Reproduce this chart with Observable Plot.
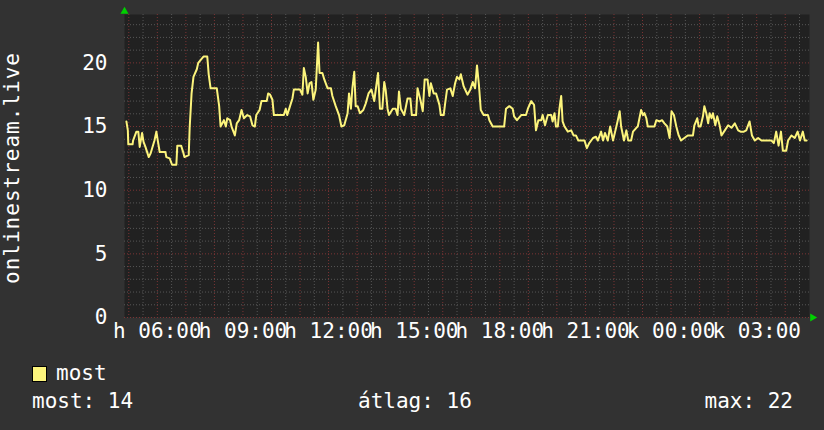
<!DOCTYPE html>
<html>
<head>
<meta charset="utf-8">
<script src="https://cdn.jsdelivr.net/npm/d3@7"></script>
<script src="https://cdn.jsdelivr.net/npm/@observablehq/plot@0.6"></script>
<style>
  html, body { margin: 0; padding: 0; background: #323232; }
  #wrap { position: relative; width: 824px; height: 430px; background: #323232; overflow: hidden;
          font-family: "DejaVu Sans Mono", monospace; color: #ffffff; }
  #chart { position: absolute; left: 0; top: 0; }
  .lg { position: absolute; font-size: 21px; white-space: pre; line-height: 1; }
  .sw { position: absolute; width: 13px; height: 14px; border: 1px solid #000; }
</style>
</head>
<body>
<div id="wrap">
  <div id="chart"></div>
</div>
<script>
// ---- data ----
const seriesName = "most";
const yLabel = "onlinestream.live";
const startISO = "2024-01-15T04:51:00Z";   // Monday (h) 04:51, 24 h window
const spanMinutes = 1440;
const dayAbbr = ["v", "h", "k", "sze", "cs", "p", "szo"];
const minutes = [
  4,7,8,17,18,25,29,32,37,40,44,51,55,63,67,70,74,86,88,95,100,109,111,119,124,126,135,137,141,145,
  152,155,166,174,177,181,194,199,202,209,213,216,222,225,232,236,241,246,251,258,264,269,274,277,284,288,299,302,306,311,
  314,335,339,342,348,353,356,369,374,377,381,385,389,393,397,402,407,410,416,420,427,434,437,444,451,456,462,469,472,476,
  479,483,486,490,495,502,507,513,519,525,530,533,537,542,546,549,553,556,564,570,574,577,581,588,595,601,604,613,616,622,
  627,631,637,641,644,650,655,662,665,671,674,678,685,690,695,699,704,707,713,718,721,727,732,737,741,745,749,755,764,767,
  774,798,802,809,816,819,825,834,844,848,855,861,865,870,876,879,884,890,897,900,904,907,911,914,918,921,925,932,939,944,
  949,954,967,972,977,985,991,995,1002,1006,1010,1016,1021,1027,1034,1037,1041,1044,1050,1055,1059,1065,1069,1076,1079,1086,1090,1093,1097,1100,
  1114,1118,1125,1130,1135,1141,1146,1150,1155,1160,1165,1170,1184,1195,1198,1204,1207,1211,1216,1219,1223,1227,1230,1234,1237,1242,1246,1251,1255,1262,
  1269,1276,1283,1290,1295,1302,1307,1314,1319,1325,1332,1339,1360,1365,1370,1375,1380,1384,1391,1395,1402,1409,1415,1420,1426,1430,1434
];
const visitors = [
  15.4,14.7,13.6,13.6,13.9,14.6,14.6,13.4,14.5,13.8,13.4,12.6,12.9,13.9,14.6,13.9,13.0,13.0,12.6,12.5,12.0,12.0,13.5,13.5,12.9,12.6,12.75,14.9,17.6,18.9,
  19.5,20.0,20.5,20.5,19.1,18.0,18.0,16.6,15.0,15.5,15.0,15.65,15.5,15.0,14.3,15.25,15.5,16.3,15.65,15.9,15.8,15.1,15.0,15.9,16.3,17.0,17.0,17.6,17.5,17.1,
  15.9,15.9,16.4,15.9,16.6,17.2,17.9,17.9,17.5,19.6,18.9,17.6,18.4,18.5,17.1,17.9,21.6,19.2,19.2,18.7,18.0,18.0,17.4,16.6,15.9,15.0,15.1,16.05,17.6,16.4,
  18.0,19.3,16.6,16.6,16.05,16.3,16.8,17.6,17.9,17.0,18.4,19.2,16.4,16.4,18.5,17.9,16.4,15.9,16.4,16.4,15.9,17.75,16.4,15.9,17.2,17.2,15.9,15.9,18.0,17.1,
  16.2,18.7,18.7,17.4,18.4,17.6,17.6,16.7,15.9,15.9,16.8,17.9,18.0,17.4,18.4,18.9,18.7,19.1,18.15,17.75,17.5,17.9,18.5,18.0,19.8,18.3,16.3,15.9,15.9,15.5,
  15.0,15.0,16.4,16.6,16.4,15.8,15.5,15.9,15.9,16.4,17.0,16.7,14.7,15.5,15.5,15.9,15.1,15.9,15.9,15.4,16.05,15.0,15.0,16.3,17.4,15.4,15.0,14.6,14.7,14.3,
  14.3,13.9,13.9,13.3,13.7,14.1,14.2,13.9,14.6,13.9,14.5,13.9,15.0,13.9,15.0,15.5,16.2,15.0,13.9,14.7,13.9,13.9,14.6,14.9,15.0,16.3,15.9,16.05,15.65,15.0,
  15.0,15.5,15.4,15.5,15.25,15.0,14.1,16.2,15.9,15.0,14.3,13.9,14.3,14.3,15.1,15.65,15.0,15.0,15.8,16.6,16.05,15.25,16.05,15.65,16.05,15.1,15.8,15.1,14.3,14.7,
  15.1,14.9,15.25,14.7,14.6,14.6,14.7,15.4,14.3,13.9,14.1,13.9,13.9,13.7,14.6,13.5,14.6,13.1,13.1,13.9,14.3,14.1,14.6,13.9,14.6,13.9,13.9
];
const yMax = 23.8;
const yMajorStep = 5;
const legendStats = [
  {label: "most", value: 14},
  {label: "átlag", value: 16},
  {label: "max", value: 22}
];

// ---- colours ----
const lineColor = "#fcf47c";
const gridMinor = "#565656";
const gridMajor = "#7c3434";

// ---- build ----
const start = new Date(startISO);
const end = new Date(+start + spanMinutes * 60000);
const data = minutes.map((m, i) => ({t: new Date(+start + m * 60000), v: visitors[i]}));

const halfHours = d3.utcMinute.every(30).range(start, end);
const hours = d3.utcHour.range(start, end);
const threeHours = hours.filter(d => d.getUTCHours() % 3 === 0);
const yMinor = d3.range(0, Math.floor(yMax) + 1, 1);
const yMajor = d3.range(0, Math.floor(yMax) + 1, yMajorStep);
const pad2 = n => String(n).padStart(2, "0");
const fmt = d => `${dayAbbr[d.getUTCDay()]} ${pad2(d.getUTCHours())}:${pad2(d.getUTCMinutes())}`;

const chart = Plot.plot({
  width: 824,
  height: 345,
  marginLeft: 124,
  marginRight: 15,
  marginTop: 14,
  marginBottom: 28,
  style: {background: "transparent", color: "#ffffff", fontFamily: "DejaVu Sans Mono", fontSize: "21px"},
  x: {type: "utc", domain: [start, end]},
  y: {domain: [0, yMax]},
  marks: [
    Plot.frame({fill: "#212121", stroke: null}),
    Plot.ruleX(halfHours.filter(d => d.getUTCMinutes() !== 0), {stroke: gridMinor, strokeDasharray: "1,2"}),
    Plot.ruleY(yMinor.filter(v => v % yMajorStep !== 0), {stroke: gridMinor, strokeDasharray: "1,2"}),
    Plot.ruleX(hours, {stroke: gridMajor, strokeDasharray: "1,2"}),
    Plot.ruleY(yMajor, {stroke: gridMajor, strokeDasharray: "1,2"}),
    Plot.axisX({ticks: threeHours, tickFormat: fmt, tickSize: 0, tickPadding: 6, fill: "#ffffff", label: null}),
    Plot.axisY({ticks: yMajor, tickSize: 0, tickPadding: 17, fill: "#ffffff", label: null}),
    Plot.line(data, {x: "t", y: "v", stroke: lineColor, strokeWidth: 2}),
    Plot.dot([{t: start, v: yMax}], {x: "t", y: "v", symbol: "triangle", fill: "#00d000", stroke: null, r: 3, dy: -3}),
    Plot.dot([{t: end, v: 0}], {x: "t", y: "v", symbol: "triangle", rotate: 90, fill: "#00d000", stroke: null, r: 3, dx: 3})
  ]
});
document.getElementById("chart").appendChild(chart);

// rotated y label
d3.select(chart).append("text")
  .attr("transform", "translate(19,168) rotate(-90)")
  .attr("text-anchor", "middle")
  .attr("fill", "#ffffff")
  .style("font-size", "21px")
  .style("letter-spacing", "1px")
  .text(yLabel);

// legend
const wrap = document.getElementById("wrap");
const sw = document.createElement("div");
sw.className = "sw";
sw.style.left = "32px"; sw.style.top = "366px"; sw.style.background = lineColor;
wrap.appendChild(sw);
const name = document.createElement("div");
name.className = "lg"; name.textContent = seriesName;
name.style.left = "56px"; name.style.top = "363px";
wrap.appendChild(name);
const lefts = [32, 358, null];
legendStats.forEach((s, i) => {
  const el = document.createElement("div");
  el.className = "lg";
  el.textContent = `${s.label}: ${s.value}`;
  el.style.top = "391px";
  if (lefts[i] !== null) el.style.left = lefts[i] + "px";
  else el.style.right = "31px";
  wrap.appendChild(el);
});
</script>
</body>
</html>
